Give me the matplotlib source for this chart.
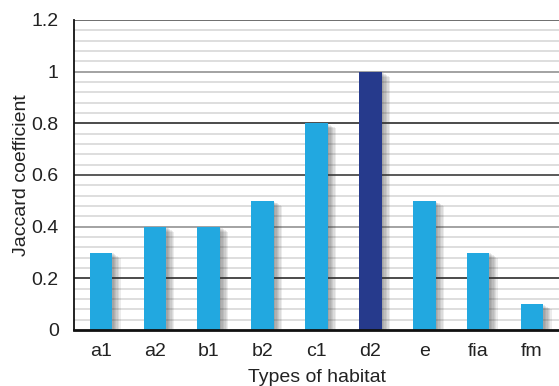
import matplotlib
matplotlib.use("Agg")
import matplotlib.pyplot as plt
import matplotlib.patheffects as pe

categories = ["a1", "a2", "b1", "b2", "c1", "d2", "e", "fia", "fm"]
values = [0.3, 0.4, 0.4, 0.5, 0.8, 1.0, 0.5, 0.3, 0.1]
highlight = "d2"
yticks = [0, 0.2, 0.4, 0.6, 0.8, 1.0, 1.2]
ytick_labels = ["0", "0.2", "0.4", "0.6", "0.8", "1", "1.2"]

plt.rcParams["font.family"] = ["Liberation Sans", "DejaVu Sans"]

fig = plt.figure(figsize=(5.59, 3.86), dpi=100)
ax = fig.add_axes([74 / 559, 56 / 386, 485 / 559, 310 / 386])

# minor grid
minor = [i * 0.04 for i in range(1, 30)]
for m in minor:
    ax.axhline(m, color="#d4d4d4", lw=1.1, zorder=0)
major_colors = {0.2: "#333333", 0.4: "#999999", 0.6: "#444444",
                0.8: "#333333", 1.0: "#999999", 1.2: "#555555"}
for v, c in major_colors.items():
    ax.axhline(v, color=c, lw=1.2, zorder=0.5)

colors = ["#263A8C" if c == highlight else "#22A8E0" for c in categories]
x = list(range(len(categories)))
shadow = [pe.SimplePatchShadow(offset=(d, -d * 0.6), alpha=0.09, shadow_rgbFace="#333333")
          for d in (1, 2, 3, 4, 5, 6)]
bars = ax.bar(x, values, width=0.42, color=colors, zorder=2)
for b in bars:
    b.set_path_effects(shadow + [pe.Normal()])

ax.set_xlim(-0.5, len(categories) - 0.5)
ax.set_ylim(0, 1.2)
ax.set_yticks(yticks)
ax.set_yticklabels(ytick_labels)
ax.set_xticks(x)
ax.set_xticklabels(categories)
ax.tick_params(axis="both", length=0, labelsize=14, colors="#222222")
ax.tick_params(axis="y", pad=11)
ax.tick_params(axis="x", pad=9)

for s in ["top", "right"]:
    ax.spines[s].set_visible(False)
ax.spines["left"].set_linewidth(1.3)
ax.spines["bottom"].set_linewidth(2.0)
ax.spines["left"].set_color("#111111")
ax.spines["bottom"].set_color("#111111")

ax.set_xlabel("Types of habitat", fontsize=14, color="#222222", labelpad=7)
ax.set_ylabel("Jaccard coefficient", fontsize=14, color="#222222", labelpad=1)

fig.savefig("out.png", dpi=100)
